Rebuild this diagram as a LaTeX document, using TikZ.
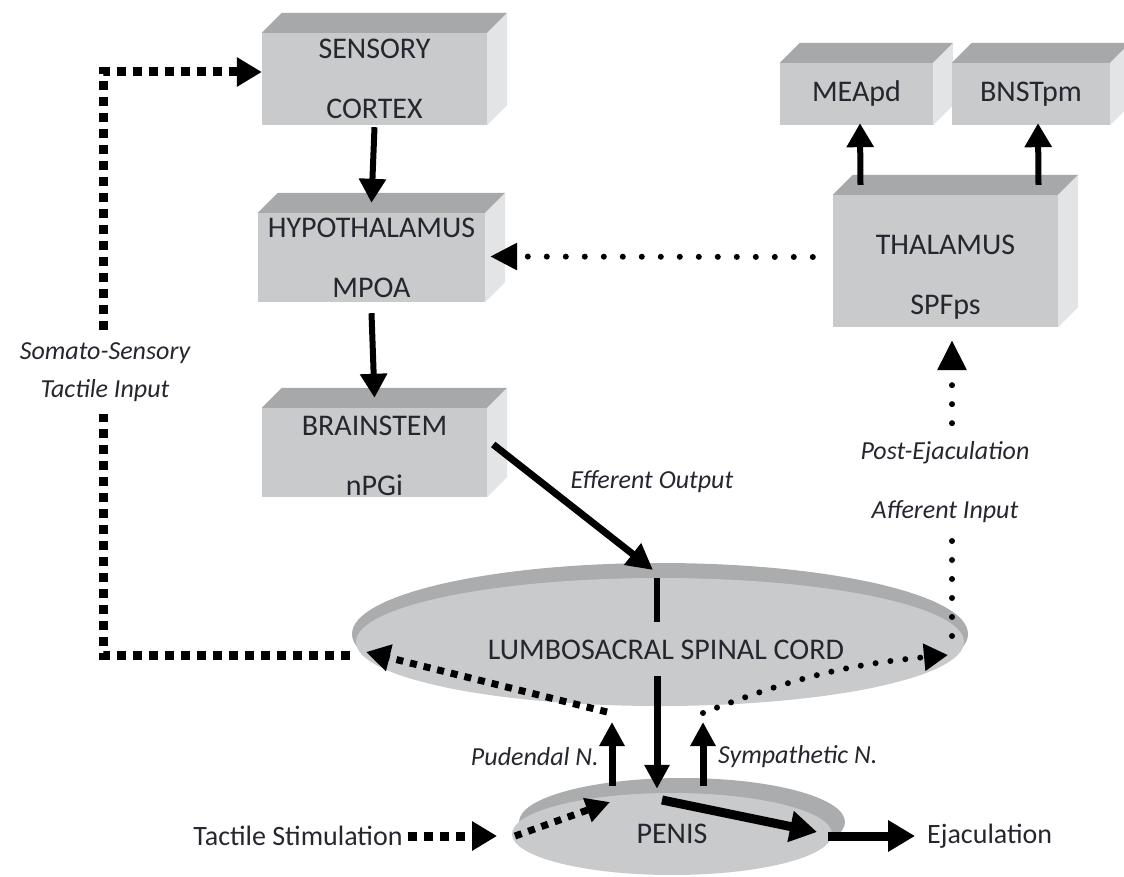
\documentclass[tikz,border=0pt]{standalone}
\usepackage{fontspec}
\setmainfont{Carlito}
\usetikzlibrary{arrows.meta,shapes.geometric,calc}

\definecolor{frontgray}{HTML}{C9CACC}
\definecolor{topgray}{HTML}{A7A8AA}
\definecolor{sidegray}{HTML}{E3E4E6}
\definecolor{rimgray}{HTML}{ABACAE}
\definecolor{inkcol}{HTML}{26262F}

\tikzset{
  region/.style={rectangle, fill=frontgray, inner sep=0pt},
  boxtext/.style={font=\fontsize{30}{60}\selectfont, text=inkcol, align=center, inner sep=0pt},
  plaintext/.style={font=\fontsize{28}{34}\selectfont, text=inkcol, inner sep=0pt},
  tagtext/.style={font=\fontsize{26}{59}\selectfont\itshape, text=inkcol, align=center, inner sep=0pt},
  solidarrow/.style={line width=6pt, -{Triangle[length=24pt,width=26pt]}},
  nervearrow/.style={line width=7pt, -{Triangle[length=24pt,width=24pt]}},
  bigarrow/.style={line width=9pt, -{Triangle[length=27pt,width=30pt]}},
  squaredots/.style={line width=9pt, dash pattern=on 9pt off 7pt},
  smallsquares/.style={line width=7pt, dash pattern=on 7pt off 7pt},
  rounddots/.style={line width=6pt, line cap=round, dash pattern=on 0pt off 19pt},
}

% top and side faces of a block whose front face is the node #1
\newcommand{\blockfaces}[1]{%
  \fill[topgray] (#1.north west) -- ++(20,-20) -- ($(#1.north east)+(20,-20)$) -- (#1.north east) -- cycle;
  \fill[sidegray] (#1.north east) -- ++(20,-20) -- ($(#1.south east)+(20,-20)$) -- (#1.south east) -- cycle;}

\begin{document}
\begin{tikzpicture}[x=1pt,y=-1pt]
\useasboundingbox (0,0) rectangle (1124,877);

% ---- spinal cord and penis discs
\fill[rimgray] (660,634) ellipse [x radius=308, y radius=71];
\node[ellipse, fill=frontgray, minimum width=608, minimum height=128, inner sep=0pt] (lumb) at (660,642) {};
\node[boxtext] (lumbtxt) at (666,650) {LUMBOSACRAL SPINAL CORD};

\fill[rimgray] (682,822) ellipse [x radius=163, y radius=44];
\node[ellipse, fill=frontgray, minimum width=320, minimum height=82, inner sep=0pt, boxtext] (penis) at (672,834) {PENIS};

% ---- brain blocks
\node[region, minimum width=225, minimum height=92] (sens) at (374.5,79) {};
\blockfaces{sens}
\node[boxtext] at (sens.center) {SENSORY\\CORTEX};

\node[region, minimum width=227, minimum height=89] (hypo) at (371.5,257.5) {};
\blockfaces{hypo}
\node[boxtext] at (hypo.center) {HYPOTHALAMUS\\MPOA};

\node[region, minimum width=225, minimum height=89] (brain) at (374.5,452.5) {};
\blockfaces{brain}
\node[boxtext] at ($(brain.center)+(0,3)$) {BRAINSTEM\\nPGi};

\node[region, minimum width=225, minimum height=132] (thal) at (945.5,261) {};
\blockfaces{thal}
\node[boxtext] at ($(thal.center)+(0,16)$) {THALAMUS\\SPFps};

\node[region, minimum width=153, minimum height=62] (mea) at (856.5,94) {};
\blockfaces{mea}
\node[boxtext] at (mea.center) {MEApd};

\node[region, minimum width=158, minimum height=62] (bnst) at (1031,94) {};
\blockfaces{bnst}
\node[boxtext] at (bnst.center) {BNSTpm};

% ---- text labels
\node[tagtext, font=\fontsize{26}{38}\selectfont\itshape] (somato) at (105,372) {Somato-Sensory\\Tactile Input};
\node[tagtext] (efferent) at (652,482) {Efferent Output};
\node[tagtext] (postej) at (945,482) {Post-Ejaculation\\Afferent Input};
\node[tagtext, anchor=east] (pudendal) at (599,757) {Pudendal N.};
\node[tagtext, anchor=west] (sympathetic) at (718,757) {Sympathetic N.};
\node[plaintext] (tactile) at (298,836) {Tactile Stimulation};
\node[plaintext, anchor=west] (ejac) at (927,836) {Ejaculation};

% ---- descending pathway
\draw[solidarrow] ($(sens.south)+(0,2)$) -- ($(hypo.north)+(0,-10)$);
\draw[solidarrow] ($(hypo.south)+(0,11)$) -- ($(brain.north)+(0,-10)$);
\coordinate (lumbtop) at (653,570);
\draw[line width=7pt, -{Triangle[length=26pt,width=26pt]}] ($(brain.east)+(6,-8)$) -- (lumbtop);
\draw[line width=6pt] (657,578) -- (657,622);
\draw[nervearrow] (657,676) -- ($(penis.north)+(-15,-4)$);

% ---- thalamic outputs
\draw[solidarrow] ($(thal.north)+(-85,-10)$) -- ($(mea.south)+(3.5,-2)$);
\draw[solidarrow] ($(thal.north)+(93,-10)$) -- ($(bnst.south)+(7,-2)$);
\draw[rounddots, -{Triangle[length=27pt,width=26pt]}] ($(thal.west)+(-20,-4)$) -- ($(hypo.east)+(5,-1)$);

% ---- somato-sensory loop
\coordinate (somstart) at (350,655);
\draw[squaredots] (somstart) -| ($(somato.south)+(-2,12)$);
\draw[squaredots, -{Triangle[length=25pt,width=28pt]}] ($(somato.north)+(-2,-12)$) |- ($(sens.west)+(0,-7)$);

% ---- post-ejaculation afferent
\draw[rounddots] (952,636) -- ($(postej.south)+(7,14)$);
\draw[rounddots, -{Triangle[length=30pt,width=28pt]}] ($(postej.north)+(7,-18)$) -- ($(thal.south)+(6.5,13)$);

% ---- nerves between penis and spinal cord
\draw[nervearrow] (612,786) -- (612,722);
\draw[nervearrow] (703,786) -- (703,722);
\draw[smallsquares, -{Triangle[length=24pt,width=26pt]}] (607,712) -- (366,652);
\draw[rounddots, dash pattern=on 0pt off 15pt, -{Triangle[length=24pt,width=26pt]}] (703,713) to[bend left=8] (948,655);

% ---- stimulation and ejaculation
\draw[squaredots, -{Triangle[length=25pt,width=28pt]}] ($(tactile.east)+(5,0)$) -- (497,836);
\draw[smallsquares, -{Triangle[length=24pt,width=24pt]}] (515,836) -- (610,802);
\draw[bigarrow] (662,800) -- (817,832);
\draw[bigarrow] (828,836) -- ($(ejac.west)+(-12,0)$);

\end{tikzpicture}
\end{document}
